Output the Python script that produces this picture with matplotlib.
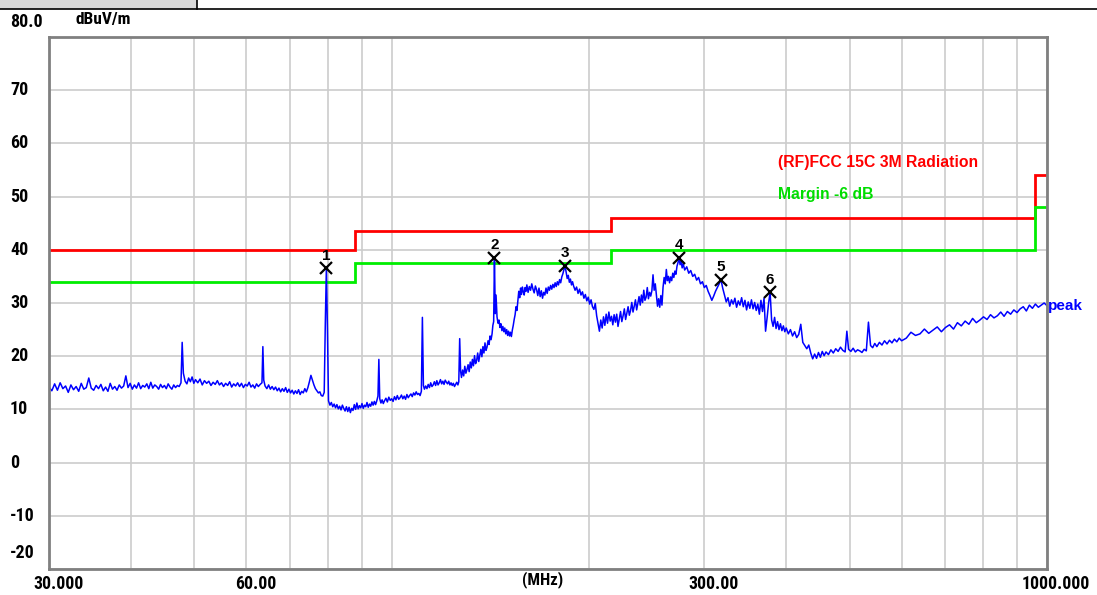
import numpy as np
import matplotlib
matplotlib.use("Agg")
import matplotlib.pyplot as plt
import matplotlib.font_manager as fm
import matplotlib.transforms as mtransforms
from matplotlib.lines import Line2D
from matplotlib.patches import Rectangle
from matplotlib.ticker import NullFormatter

plt.rcParams['font.family'] = ['Liberation Sans', 'DejaVu Sans']

# look for an upright bold narrow face for the axis labels
narrow_path = None
for f in fm.fontManager.ttflist:
    w = f.weight if isinstance(f.weight, int) else fm.weight_dict.get(f.weight, 400)
    narrowish = ('Narrow' in f.name or 'Condensed' in f.name
                 or str(f.stretch) in ('condensed', 'semi-condensed'))
    if (narrowish and w >= 700 and f.style == 'normal'
            and 'Mono' not in f.name and 'Serif' not in f.name):
        narrow_path = f.fname
        if 'Liberation' in f.name:
            break


def nfont(size):
    if narrow_path:
        return fm.FontProperties(fname=narrow_path, size=size)
    return fm.FontProperties(family='Liberation Sans', weight='bold', size=size * 0.95)


# peak trace (MHz, dBuV/m)
trace_freq = [
    30.0, 30.3, 30.6, 30.9, 31.2, 31.5, 31.8, 32.1, 32.4, 32.7,
    33.0, 33.3, 33.6, 33.9, 34.2, 34.5, 34.8, 35.1, 35.4, 35.7,
    36.0, 36.3, 36.6, 36.9, 37.2, 37.5, 37.8, 38.1, 38.4, 38.7,
    39.0, 39.3, 39.6, 39.9, 40.2, 40.5, 40.8, 41.1, 41.4, 41.7,
    42.0, 42.3, 42.6, 42.9, 43.2, 43.5, 43.8, 44.1, 44.4, 44.7,
    45.0, 45.3, 45.6, 45.9, 46.2, 46.5, 46.8, 47.1, 47.4,
    47.7, 47.9, 48.1, 48.4, 48.7, 49.0, 49.3, 49.6, 49.9, 50.2,
    50.6, 51.0, 51.4, 51.8, 52.2, 52.6, 53.0, 53.4, 53.8, 54.2,
    54.6, 55.0, 55.4, 55.8, 56.2, 56.6, 57.0, 57.4, 57.8, 58.2,
    58.6, 59.0, 59.4, 59.8, 60.2, 60.6, 61.0, 61.4, 61.8, 62.2,
    62.6, 63.0, 63.4, 63.6, 63.8, 64.1, 64.5, 64.9, 65.3, 65.7,
    66.1, 66.5, 66.9, 67.3, 67.7, 68.1, 68.5, 68.9, 69.3, 69.7,
    70.1, 70.5, 70.9, 71.3, 71.7, 72.1, 72.5, 72.9, 73.3, 73.7,
    74.1, 74.5, 74.9, 75.3, 75.7, 76.1, 76.5, 76.9, 77.3, 77.7,
    78.1, 78.5, 78.9, 79.2, 79.5, 79.8, 80.1, 80.5, 80.9, 81.3,
    81.7, 82.1, 82.5, 82.9, 83.3, 83.7, 84.1, 84.5, 84.9, 85.3,
    85.7, 86.1, 86.5, 86.9, 87.3, 87.7, 88.1, 88.5, 88.9, 89.3,
    89.7, 90.1, 90.5, 90.9, 91.3, 91.7, 92.1, 92.5, 92.9, 93.3,
    93.7, 94.1, 94.5, 94.9, 95.3, 95.6, 95.9, 96.3, 96.7, 97.1,
    97.5, 98.0, 98.5, 99.0, 99.5, 100.0, 100.5, 101.0, 101.5, 102.0,
    102.5, 103.0, 103.5, 104.0, 104.5, 105.0, 105.5, 106.0, 106.5, 107.0,
    107.5, 108.0, 108.5, 109.0, 109.5, 110.0, 110.5, 111.0, 111.4, 111.8,
    112.2, 112.7, 113.2, 113.7, 114.2, 114.7, 115.2, 115.7, 116.2, 116.7,
    117.2, 117.7, 118.2, 118.7, 119.2, 119.7, 120.2, 120.7, 121.2, 121.7,
    122.2, 122.7, 123.2, 123.7, 124.2, 124.7, 125.2, 125.7, 126.2, 126.6,
    127.0, 127.4, 127.8, 128.3, 128.8, 129.3, 129.8, 130.3, 130.8, 131.3,
    131.8, 132.3, 132.8, 133.3, 133.8, 134.3, 134.8, 135.3, 135.8, 136.3,
    136.8, 137.3, 137.8, 138.3, 138.8, 139.3, 139.8, 140.3, 140.8, 141.3,
    141.8, 142.3, 142.7, 143.1, 143.5, 143.9, 144.3, 144.8, 145.3, 145.8,
    146.3, 146.8, 147.3, 147.8, 148.3, 148.8, 149.3, 149.8, 150.3, 150.8,
    151.3, 151.8, 152.3, 152.8, 153.3, 153.8, 154.3, 154.8, 155.3, 155.8,
    156.3, 156.8, 157.3, 157.8, 158.3, 158.8, 159.3, 159.8, 160.3, 160.8,
    161.5, 162.2, 162.9, 163.6, 164.3, 165.0, 165.7, 166.4, 167.1, 167.8,
    168.5, 169.2, 169.9, 170.6, 171.3, 172.0, 172.7, 173.4, 174.1, 174.8,
    175.5, 176.2, 176.9, 177.6, 178.3, 179.0, 179.7, 180.4, 181.1, 181.8,
    182.5, 183.2, 183.9, 184.6, 185.3, 186.0, 186.7, 187.4, 188.1, 188.8,
    189.5, 190.5, 191.5, 192.5, 193.5, 194.5, 195.5, 196.5, 197.5, 198.5,
    199.5, 200.5, 201.5, 202.5, 203.5, 204.5, 205.5, 206.5, 207.5, 208.5,
    209.5, 210.5, 211.5, 212.5, 213.5, 214.5, 215.5, 216.5, 217.5, 218.5,
    219.5, 220.5, 221.5, 222.5, 223.5, 224.5, 225.5, 226.5, 227.5, 228.5,
    229.5, 230.5, 231.5, 232.5, 233.5, 234.5, 235.5, 236.5, 237.5, 238.5,
    239.5, 240.5, 241.5, 242.5, 243.5, 244.5, 245.5, 246.5, 247.5, 248.5,
    249.5, 250.5, 251.5, 252.5, 253.5, 254.5, 255.5, 256.5, 257.5, 258.5,
    259.5, 260.5, 261.5, 262.5, 263.5, 264.5, 265.5, 266.5, 267.5, 268.5,
    269.5, 270.5, 271.5, 272.5, 273.5, 274.5, 275.5, 276.5, 277.5, 278.5,
    280, 282, 284, 286, 288, 290, 292, 294, 296, 298,
    300, 302, 304, 306, 308, 310, 312, 314, 316, 318,
    320, 322, 324, 326, 328, 330, 332, 334, 336, 338,
    340, 342, 344, 346, 348, 350, 352, 354, 356, 358,
    360, 362, 364, 366, 368, 370, 372, 374, 376, 378,
    380, 382, 384, 386, 388, 390, 392, 394, 396, 398,
    400, 403, 406, 409, 412, 415, 418, 421, 424, 427,
    430, 433, 436, 439, 442, 445, 448, 451, 454, 457,
    460, 464, 468, 472, 476, 480, 484, 488, 492, 495,
    498, 502, 506, 510, 514, 518, 522, 526, 530, 534,
    538, 542, 546, 550, 555, 560, 565, 570, 575, 580,
    585, 590, 595, 600,
    610, 620, 630, 640, 650, 660, 670, 680, 690, 700,
    710, 720, 730, 740, 750, 760, 770, 780, 790, 800,
    810, 820, 830, 840, 850, 860, 870, 880, 890, 900,
    910, 920, 930, 940, 950, 960, 970, 980, 990, 1000,
]
trace_level = [
    14.2, 13.5, 14.8, 13.6, 15.0, 13.9, 14.4, 13.2, 14.6, 13.7,
    14.3, 13.4, 14.9, 13.8, 14.1, 15.9, 14.0, 13.6, 14.5, 13.9,
    14.7, 13.5, 14.2, 13.4, 14.9, 13.8, 14.3, 13.6, 14.6, 14.0,
    14.4, 16.3, 14.1, 14.9, 13.8, 14.6, 14.0, 15.0, 13.9, 14.5,
    14.2, 14.8, 13.9, 15.1, 14.0, 14.6, 14.3, 13.8, 14.7, 14.1,
    14.5, 13.9, 14.8, 14.2, 13.8, 14.6, 14.1, 14.5, 14.3,
    15.0, 22.6, 16.8, 15.3, 14.8, 15.9, 15.2, 16.1, 14.9, 15.6,
    15.0, 15.7, 14.6, 15.4, 14.9, 15.3, 14.5, 15.1, 14.7, 15.4,
    14.6, 15.0, 14.3, 14.9, 14.5, 15.2, 14.2, 14.8, 14.4, 15.0,
    14.3, 14.9, 14.1, 14.7, 14.4, 15.1, 14.2, 14.6, 14.0, 14.8,
    14.3, 14.7, 15.0, 21.8, 15.5, 14.4, 13.9, 14.6, 13.8, 14.3,
    13.7, 14.2, 13.5, 14.0, 13.3, 13.9, 13.4, 14.1, 13.2, 13.8,
    13.1, 13.6, 12.9, 13.5, 13.0, 13.7, 12.8, 13.4, 13.1, 13.9,
    13.3, 14.1, 15.2, 16.4, 15.5, 14.6, 13.9, 13.5, 13.1, 13.3,
    12.6, 12.5, 13.2, 26.0, 36.5, 25.0, 11.6, 10.8, 11.3, 10.5,
    11.0, 10.3, 10.9, 10.1, 10.6, 9.9, 10.8, 10.2, 9.7, 10.5,
    9.6, 10.4, 9.4, 10.2, 9.8, 10.9, 10.0, 11.2, 10.1, 10.7,
    10.3, 11.1, 10.2, 10.8, 10.5, 11.3, 10.4, 11.0, 10.6, 11.4,
    10.8, 11.5, 10.9, 11.6, 12.5, 19.4, 12.0, 11.2, 11.8, 11.1,
    11.6, 12.1, 11.4, 12.3, 11.7, 12.0, 11.5, 12.4, 11.8, 12.6,
    11.9, 12.2, 12.7, 12.0, 12.5, 11.9, 12.8, 12.2, 12.6, 12.9,
    12.4, 13.1, 12.7, 13.3, 12.8, 13.0, 12.6, 13.4, 27.3, 14.5,
    13.8, 14.4, 13.9, 14.7, 14.1, 15.0, 14.3, 14.6, 15.2, 14.5,
    15.4, 14.6, 15.0, 15.6, 14.8, 15.3, 14.7, 15.5, 15.1, 14.8,
    15.3, 14.6, 15.0, 14.5, 14.9, 14.3, 14.7, 15.1, 14.6, 15.2,
    23.3, 17.2, 16.0, 17.4, 16.3, 18.1, 16.8, 17.5, 18.4, 17.1,
    18.9, 17.8, 19.4, 18.2, 20.1, 18.6, 19.2, 20.6, 19.0, 20.2,
    21.3, 19.9, 21.8, 20.6, 22.5, 21.1, 21.7, 22.9, 22.2, 23.8,
    23.1, 24.2, 25.8, 26.5, 38.5, 28.0, 31.5, 27.4, 26.2, 26.8,
    25.4, 26.1, 24.8, 25.6, 24.6, 25.3, 24.2, 25.0, 23.9, 24.7,
    23.8, 24.5, 23.7, 24.9, 25.8, 26.9, 27.8, 29.3, 28.6, 30.5,
    32.2, 31.0, 32.8, 31.6, 33.0, 32.1, 31.5, 32.9, 32.2, 33.4,
    32.0, 33.1, 32.4, 33.6, 32.6, 31.9, 33.2, 32.5, 31.4, 32.8,
    31.2, 32.3, 30.9, 32.0, 31.5, 32.8, 31.8, 33.0, 32.4, 33.3,
    32.6, 33.5, 32.9, 33.8, 33.1, 34.0, 33.4, 34.4, 33.8, 34.9,
    35.5, 36.3, 37.0, 35.8, 34.6, 35.2, 33.9, 34.5, 33.4, 34.0,
    33.2, 32.4, 33.0, 31.8, 32.6, 31.5, 32.1, 30.9, 31.6, 30.4,
    31.1, 29.8, 30.6, 29.3, 28.8, 29.9, 27.6, 26.1, 24.7, 26.8,
    25.3, 27.4, 25.8, 27.9, 26.2, 28.3, 26.6, 27.5, 25.9, 27.8,
    26.4, 27.9, 25.6, 27.0, 28.4, 26.5, 27.6, 28.9, 26.9, 28.1,
    29.3, 27.7, 28.6, 30.1, 28.3, 29.4, 30.6, 28.7, 30.0, 31.2,
    29.6, 31.5, 30.1, 32.4, 30.5, 31.1, 32.9, 30.8, 32.0, 31.3,
    32.3, 35.3, 32.4, 33.6, 31.5, 29.4, 30.8, 29.2, 31.4, 29.6,
    33.0, 34.8, 33.6, 36.3, 34.2, 35.0, 33.8, 34.9, 34.2, 35.6,
    34.8, 36.0, 35.4, 36.9, 37.6, 38.5, 37.2, 37.9, 36.6, 37.4,
    36.2, 36.8, 35.6, 36.1, 35.0, 35.4, 34.3, 34.8, 33.6, 34.0,
    32.9, 33.3, 32.2, 31.4, 30.5, 31.3, 32.2, 32.9, 33.6, 34.4,
    32.8, 31.5, 30.2, 31.0, 29.4, 30.6, 29.8, 30.9, 29.2, 30.4,
    29.6, 31.0, 29.3, 30.5, 28.7, 30.2, 29.0, 30.6, 28.9, 30.1,
    28.6, 29.8, 27.9, 30.5, 28.4, 30.9, 24.7, 27.2, 30.0, 32.0,
    26.8, 25.6, 27.3, 25.2, 26.5, 25.0, 26.1, 24.8, 25.7, 24.6,
    25.3, 24.2, 25.0, 23.8, 24.6, 23.5, 24.1, 26.0, 22.6, 22.0,
    21.4, 22.1, 20.6, 19.5, 20.4, 19.6, 20.7, 19.8, 20.9, 20.1,
    20.8, 20.3, 21.2, 20.6, 21.4, 20.9, 21.7, 21.1, 20.8, 24.7,
    21.3, 20.9, 21.5, 20.8, 21.2, 21.0, 20.7, 21.3, 21.0, 26.4,
    22.0, 21.6, 22.4, 21.8, 22.6, 22.1, 22.9, 22.3, 23.0, 22.5,
    23.2, 22.7, 23.4, 22.9,
    23.4, 24.5, 23.9, 24.2, 25.1, 24.3, 24.9, 25.5, 24.6, 25.4,
    25.9, 25.1, 26.3, 25.7, 26.6, 26.0, 27.1, 26.3, 26.8, 27.4,
    26.9, 27.8, 27.2, 27.6, 28.3, 27.5, 28.4, 27.9, 28.7, 28.2,
    28.9, 29.3, 28.5, 29.6, 29.0, 29.8, 29.2, 29.6, 30.0, 29.5,
]

# limit line (RF)FCC 15C 3M Radiation and its -6 dB margin
limit_edges = [30, 88, 216, 960, 1000]
limit_levels = [40, 43.5, 46, 54]
margin_db = 6

# marked peaks
marker_freq = [79.5, 143.5, 184.0, 274.5, 318.0, 378.0]
marker_level = [36.5, 38.5, 37.0, 38.5, 34.4, 32.0]
marker_names = ['1', '2', '3', '4', '5', '6']

grid_freq = [40, 50, 70, 80, 90, 100, 200, 400, 500, 600, 700, 800, 900]
x_ticks = [30, 60, 300, 1000]
x_labels = ['30.000', '60.00', '300.00', '1000.000']
y_ticks = [70, 60, 50, 40, 30, 20, 10, 0, -10]

W, H = 1097, 595
fig = plt.figure(figsize=(W / 100, H / 100), dpi=100)
ax = fig.add_axes([49 / W, 1 - 569 / H, 998 / W, 532 / H])

ax.set_xscale('log')
ax.set_xlim(30, 1000)
ax.set_ylim(-20, 80)
ax.set_axisbelow(True)

ax.set_xticks(x_ticks)
ax.set_xticklabels(x_labels)
ax.set_xticks(grid_freq, minor=True)
ax.xaxis.set_minor_formatter(NullFormatter())
ax.set_yticks(np.arange(-20, 81, 10))
ax.set_yticklabels([])
ax.tick_params(which='both', length=0)
ax.tick_params(axis='x', pad=4)
for lab in ax.get_xticklabels():
    lab.set_fontproperties(nfont(12.8))
    lab.set_transform(lab.get_transform() + mtransforms.ScaledTranslation(9 / 100, 0, fig.dpi_scale_trans))
ax.grid(which='both', color='#cccccc', linewidth=1.2)
for sp in ax.spines.values():
    sp.set_color('#808080')
    sp.set_linewidth(2)

# y labels, left aligned outside the axes
ytr = mtransforms.blended_transform_factory(fig.transFigure, ax.transData)
for v in y_ticks:
    ax.text(10 / W, v, str(v), transform=ytr, ha='left', va='center',
            fontproperties=nfont(13))
ax.text(10 / W, 82.8, '80.0', transform=ytr, ha='left', va='center',
        fontproperties=nfont(13))
ax.text(10 / W, -17, '-20', transform=ytr, ha='left', va='center',
        fontproperties=nfont(13))
ax.text(75 / W, 83.2, 'dBuV/m', transform=ytr, ha='left', va='center',
        fontproperties=nfont(12.5))
xtr = mtransforms.blended_transform_factory(ax.transData, fig.transFigure)
ax.text(170, 1 - 580 / H, '(MHz)', transform=xtr, ha='center', va='center',
        fontproperties=nfont(12))

# limit and margin lines
ax.stairs(limit_levels, limit_edges, color='#ff0000', linewidth=2, baseline=None)
ax.stairs([v - margin_db for v in limit_levels], limit_edges, color='#00ee00',
          linewidth=2, baseline=None)

# trace
ax.plot(trace_freq, trace_level, color='#0000ff', linewidth=1.1)
ax.text(1003, trace_level[-1], 'peak', color='#0000ff', ha='left', va='center',
        fontweight='bold', fontsize=11, clip_on=False)

# markers
ax.plot(marker_freq, marker_level, linestyle='none', marker='x', color='black',
        markersize=8, markeredgewidth=1.6)
for f, v, n in zip(marker_freq, marker_level, marker_names):
    ax.text(f, v + 1.0, n, ha='center', va='bottom', fontsize=11,
            fontweight='bold', color='black')

ax.text(388, 56.4, '(RF)FCC 15C 3M Radiation', color='#ff0000', ha='left',
        va='center', fontweight='bold', fontsize=11.3)
ax.text(388, 50.4, 'Margin -6 dB', color='#00dd00', ha='left',
        va='center', fontweight='bold', fontsize=11.3)

# window header strip
fig.add_artist(Rectangle((0, 1 - 9 / H), 197 / W, 9 / H, transform=fig.transFigure,
                         facecolor='#d9d9d9', edgecolor='none'))
fig.add_artist(Line2D([0, 1], [1 - 9 / H] * 2, transform=fig.transFigure,
                      color='black', linewidth=1.2))
fig.add_artist(Line2D([197 / W] * 2, [1 - 9 / H, 1], transform=fig.transFigure,
                      color='black', linewidth=1.2))

fig.savefig('out.png', dpi=100)
